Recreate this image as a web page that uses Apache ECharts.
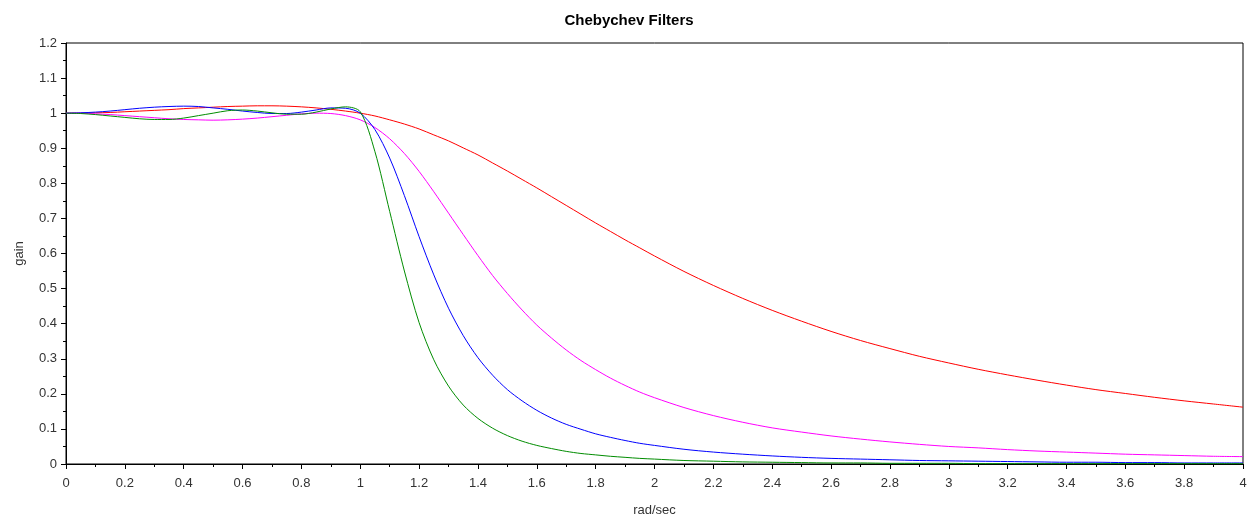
<!DOCTYPE html>
<html>
<head>
<meta charset="utf-8">
<title>Chebychev Filters</title>
<script src="https://cdn.jsdelivr.net/npm/echarts@6/dist/echarts.min.js"></script>
<style>
  html, body { margin: 0; padding: 0; background: #fff; }
  #chart { width: 1258px; height: 522px; }
</style>
</head>
<body>
<div id="chart"></div>
<script>
// frequency samples (rad/sec)
const freq = [
  0, 0.05, 0.1, 0.15, 0.2, 0.25, 0.3, 0.35, 0.4, 0.45, 0.5, 0.55, 0.6, 0.65, 0.7, 0.75, 0.8, 0.85, 0.9, 0.95, 1.0,
  1.05, 1.1, 1.15, 1.2, 1.25, 1.3, 1.35, 1.4, 1.45, 1.5, 1.55, 1.6, 1.65, 1.7, 1.75, 1.8, 1.85, 1.9, 1.95, 2.0,
  2.1, 2.2, 2.3, 2.4, 2.5, 2.6, 2.7, 2.8, 2.9, 3.0, 3.1, 3.2, 3.3, 3.4, 3.5, 3.6, 3.7, 3.8, 3.9, 4.0
];

// gain, one list per curve
const gainRed = [
  1.000, 1.000, 1.001, 1.002, 1.004, 1.006, 1.008, 1.010, 1.013, 1.015, 1.017, 1.019, 1.020, 1.021, 1.021, 1.020, 1.018, 1.015, 1.011, 1.006, 1.000,
  0.992, 0.981, 0.969, 0.955, 0.938, 0.921, 0.901, 0.881, 0.858, 0.835, 0.811, 0.787, 0.762, 0.737, 0.712, 0.687, 0.663, 0.639, 0.616, 0.593,
  0.549, 0.509, 0.472, 0.438, 0.407, 0.378, 0.352, 0.329, 0.307, 0.288, 0.270, 0.254, 0.239, 0.225, 0.212, 0.201, 0.190, 0.180, 0.171, 0.162
];
const gainMagenta = [
  1.000, 1.000, 0.998, 0.996, 0.993, 0.990, 0.987, 0.984, 0.982, 0.981, 0.980, 0.981, 0.983, 0.986, 0.990, 0.994, 0.998, 1.000, 0.999, 0.993, 0.981,
  0.959, 0.927, 0.885, 0.834, 0.776, 0.715, 0.654, 0.594, 0.537, 0.486, 0.439, 0.396, 0.359, 0.325, 0.295, 0.269, 0.245, 0.224, 0.205, 0.189,
  0.161, 0.138, 0.119, 0.103, 0.091, 0.080, 0.071, 0.063, 0.056, 0.050, 0.046, 0.041, 0.037, 0.034, 0.031, 0.028, 0.026, 0.024, 0.022, 0.021
];
const gainBlue = [
  1.000, 1.001, 1.003, 1.006, 1.010, 1.014, 1.017, 1.019, 1.020, 1.019, 1.015, 1.011, 1.006, 1.002, 0.999, 0.999, 1.003, 1.009, 1.015, 1.014, 1.000,
  0.953, 0.872, 0.765, 0.648, 0.539, 0.444, 0.366, 0.303, 0.253, 0.212, 0.180, 0.153, 0.131, 0.113, 0.099, 0.086, 0.076, 0.067, 0.059, 0.053,
  0.042, 0.034, 0.028, 0.023, 0.019, 0.016, 0.014, 0.012, 0.010, 0.009, 0.008, 0.007, 0.006, 0.005, 0.005, 0.004, 0.004, 0.003, 0.003, 0.003
];
const gainGreen = [
  1.000, 0.999, 0.996, 0.992, 0.988, 0.984, 0.982, 0.982, 0.986, 0.993, 1.000, 1.007, 1.009, 1.006, 1.001, 0.997, 0.997, 1.003, 1.012, 1.018, 1.004,
  0.890, 0.720, 0.550, 0.403, 0.297, 0.222, 0.168, 0.130, 0.102, 0.081, 0.065, 0.053, 0.044, 0.036, 0.030, 0.026, 0.022, 0.019, 0.016, 0.014,
  0.010, 0.008, 0.006, 0.005, 0.004, 0.003, 0.003, 0.002, 0.002, 0.002, 0.001, 0.001, 0.001, 0.001, 0.001, 0.001, 0.001, 0.001, 0.001, 0.001
];

const curves = [
  {name: 'n2', color: '#ff0000', gain: gainRed},
  {name: 'n3', color: '#ff00ff', gain: gainMagenta},
  {name: 'n4', color: '#0000ff', gain: gainBlue},
  {name: 'n5', color: '#008c00', gain: gainGreen}
];

const font = 'Liberation Sans, Arial, sans-serif';

const chart = echarts.init(document.getElementById('chart'), null, {renderer: 'canvas'});

chart.setOption({
  animation: false,
  backgroundColor: '#fff',
  title: {
    text: 'Chebychev Filters',
    left: 'center',
    top: 8,
    textStyle: {fontFamily: font, fontSize: 15, fontWeight: 'bold', color: '#000'}
  },
  grid: {
    left: 66, right: 15, top: 43, bottom: 58,
    containLabel: false,
    show: true,
    borderColor: '#000',
    borderWidth: 1
  },
  xAxis: {
    type: 'value',
    min: 0, max: 4, interval: 0.2,
    name: 'rad/sec',
    nameLocation: 'middle',
    nameGap: 40,
    nameTextStyle: {fontFamily: font, fontSize: 13, color: '#333'},
    axisLine: {show: true, lineStyle: {color: '#000', width: 1}},
    axisTick: {show: true, length: 5, lineStyle: {color: '#000'}},
    minorTick: {show: true, splitNumber: 2, length: 3, lineStyle: {color: '#000'}},
    splitLine: {show: false},
    axisLabel: {fontFamily: font, fontSize: 13, color: '#333', margin: 13}
  },
  yAxis: {
    type: 'value',
    min: 0, max: 1.2, interval: 0.1,
    name: 'gain',
    nameLocation: 'middle',
    nameRotate: 90,
    nameGap: 40,
    nameTextStyle: {fontFamily: font, fontSize: 13, color: '#333'},
    axisLine: {show: true, lineStyle: {color: '#000', width: 1}},
    axisTick: {show: true, length: 5, lineStyle: {color: '#000'}},
    minorTick: {show: true, splitNumber: 2, length: 3, lineStyle: {color: '#000'}},
    splitLine: {show: false},
    axisLabel: {fontFamily: font, fontSize: 13, color: '#333', margin: 9}
  },
  series: curves.map(c => ({
    name: c.name,
    type: 'line',
    data: freq.map((f, i) => [f, c.gain[i]]),
    showSymbol: false,
    smooth: 0.3,
    clip: true,
    lineStyle: {color: c.color, width: 1},
    itemStyle: {color: c.color}
  }))
});
</script>
</body>
</html>
